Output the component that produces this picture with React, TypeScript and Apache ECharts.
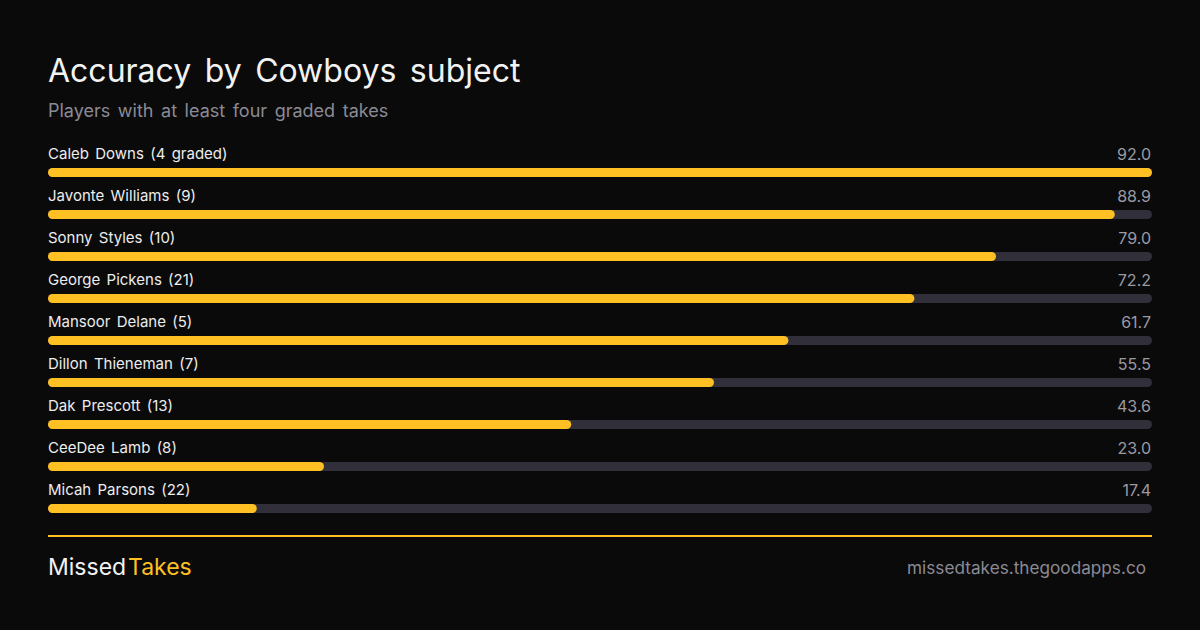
import React, { useEffect, useRef } from "react";
import * as echarts from "echarts";

const players = ["Caleb Downs", "Javonte Williams", "Sonny Styles", "George Pickens", "Mansoor Delane", "Dillon Thieneman", "Dak Prescott", "CeeDee Lamb", "Micah Parsons"];
const graded = ["4 graded", "9", "10", "21", "5", "7", "13", "8", "22"];
const accuracy = [92.0, 88.9, 79.0, 72.2, 61.7, 55.5, 43.6, 23.0, 17.4];
const axisMax = 92;

const FONT = "Inter";
const AMBER = "#FFC024";

export default function App() {
  const ref = useRef<HTMLDivElement>(null);
  useEffect(() => {
    document.body.style.margin = "0";
    document.body.style.background = "#0A0A0B";
    const chart = echarts.init(ref.current!, undefined, { renderer: "svg" });
    const categories = players.map((p, i) => `${p} (${graded[i]})`);
    chart.setOption({
      animation: false,
      backgroundColor: "#0A0A0B",
      grid: { left: 48, width: 1104, top: 151.5, height: 378 },
      xAxis: { type: "value", min: 0, max: axisMax, show: false },
      yAxis: { type: "category", inverse: true, data: categories, show: false },
      title: [
        { text: "Accuracy by Cowboys subject", left: 43, top: 45, textStyle: { color: "#F2F2F2", fontFamily: FONT, fontSize: 32, fontWeight: 400, lineHeight: 40 } },
        { text: "Players with at least four graded takes", left: 43, top: 93, textStyle: { color: "#8A8A94", fontFamily: FONT, fontSize: 18, fontWeight: 400, lineHeight: 24 } },
        { text: "Missed", left: 43, top: 547, textStyle: { color: "#F2F2F2", fontFamily: FONT, fontSize: 23, fontWeight: 400, lineHeight: 30 } },
        { text: "Takes", left: 123, top: 547, textStyle: { color: AMBER, fontFamily: FONT, fontSize: 23, fontWeight: 400, lineHeight: 30 } },
        { text: "missedtakes.thegoodapps.co", right: 49, top: 550, textStyle: { color: "#8A8A94", fontFamily: FONT, fontSize: 17.2, fontWeight: 400, lineHeight: 24 } },
      ],
      graphic: [
        { type: "rect", shape: { x: 48, y: 535, width: 1104, height: 2 }, style: { fill: AMBER } },
      ],
      series: [
        {
          type: "bar",
          barWidth: 9,
          barGap: "-100%",
          silent: true,
          data: accuracy.map(() => axisMax),
          itemStyle: { color: "#312F39", borderRadius: 4.5 },
          label: {
            show: true,
            position: "insideRight",
            offset: [-1, -19],
            distance: 0,
            padding: 0,
            color: "#9A9AA3",
            fontFamily: FONT,
            fontSize: 16,
            formatter: (p: any) => accuracy[p.dataIndex].toFixed(1),
          },
        },
        {
          type: "bar",
          barWidth: 9,
          silent: true,
          data: accuracy,
          itemStyle: { color: AMBER, borderRadius: 4.5 },
          label: {
            show: true,
            position: "insideLeft",
            offset: [0, -19],
            distance: 0,
            padding: 0,
            color: "#EDEDED",
            fontFamily: FONT,
            fontSize: 15,
            formatter: (p: any) => p.name,
          },
        },
      ],
    });
    return () => chart.dispose();
  }, []);
  return (
    <>
      <style>{`svg text { word-spacing: 0.14em; }`}</style>
      <div ref={ref} style={{ position: "fixed", left: 0, top: 0, width: 1200, height: 630 }} />
    </>
  );
}
